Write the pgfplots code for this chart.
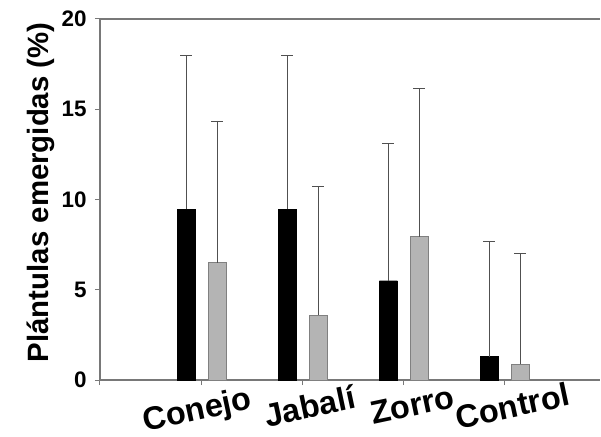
\documentclass[border=0pt]{standalone}
\usepackage{fontspec}
\setmainfont{Liberation Sans}
\usepackage{pgfplots}
\pgfplotsset{compat=1.18}
\definecolor{barGray}{RGB}{180,180,180}
\definecolor{barEdge}{RGB}{128,128,128}
\definecolor{axGray}{RGB}{120,120,120}
\definecolor{errGray}{RGB}{80,80,80}
\begin{document}
\begin{tikzpicture}
\begin{axis}[
  name=ax,
  scale only axis,
  width=500bp, height=361bp,
  xmin=-1, xmax=3.95,
  ymin=0, ymax=20,
  axis x line=bottom, axis y line=left,
  axis line style={axGray, line width=1.3bp, -},
  xtick={-1,0,1,2,3},
  xticklabels={,\hspace*{-18bp}Conejo,\hspace*{6bp}Jabalí,\hspace*{10bp}Zorro,\hspace*{8bp}Control},
  ytick={0,5,10,15,20},
  tick style={axGray, line width=1bp},
  tick align=outside,
  major tick length=5bp,
  /pgf/number format/assume math mode=true,
  yticklabel style={font=\fontsize{22.5}{22.5}\selectfont\bfseries, xshift=-5bp},
  xticklabel style={font=\fontsize{32.5}{32.5}\selectfont\bfseries, rotate=12, anchor=north, yshift=-10bp, inner sep=0bp},
  ylabel={Plántulas emergidas (\%)},
  ylabel style={font=\fontsize{29.5}{29.5}\selectfont\bfseries, at={(ticklabel cs:0.52)}},
  ybar, bar width=0.18,
  error bars/error bar style={errGray, line width=0.9bp},
  error bars/error mark options={errGray, line width=0.9bp, mark size=6bp, rotate=90},
  clip=false,
]
\addplot[fill=black, draw=black, bar shift=-0.145,
  error bars/.cd, y dir=plus, y explicit]
  coordinates {(0,9.45) +- (0,8.55) (1,9.45) +- (0,8.55) (2,5.5) +- (0,7.6) (3,1.3) +- (0,6.35)};
\addplot[fill=barGray, draw=barEdge, bar shift=0.16,
  error bars/.cd, y dir=plus, y explicit]
  coordinates {(0,6.5) +- (0,7.85) (1,3.6) +- (0,7.1) (2,7.95) +- (0,8.2) (3,0.87) +- (0,6.13)};
\draw[axGray, line width=1.3bp] (axis cs:-1,20) -- (axis cs:3.95,20);
\end{axis}
\pgfresetboundingbox
\useasboundingbox ([xshift=-100bp,yshift=-57bp]ax.south west) rectangle ([xshift=1bp,yshift=19bp]ax.north east);
\end{tikzpicture}
\end{document}
